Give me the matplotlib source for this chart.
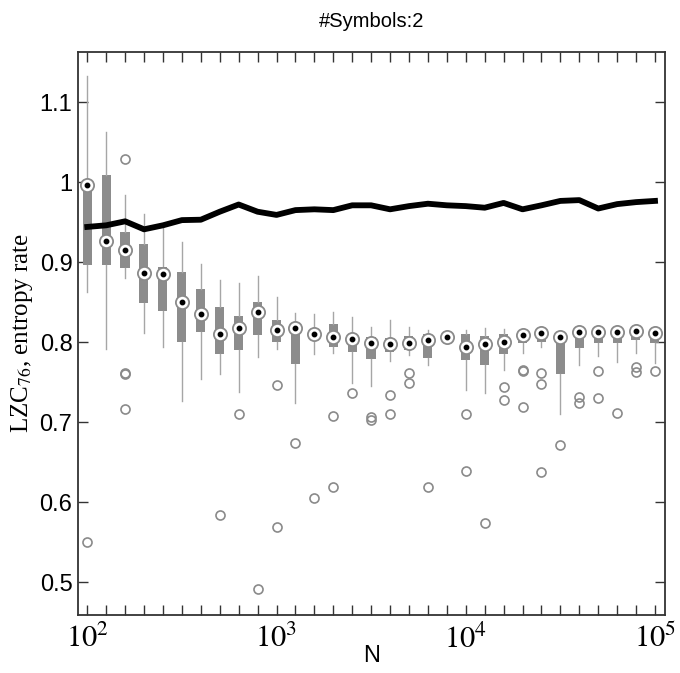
import matplotlib
matplotlib.use('Agg')
import matplotlib.pyplot as plt
import numpy as np

plt.rcParams['mathtext.fontset'] = 'stix'

# --- data ---
exponents = np.arange(2.0, 5.01, 0.1)
N = 10 ** exponents

whislo = [0.863, 0.791, 0.880, 0.812, 0.794, 0.727, 0.754, 0.760, 0.738, 0.782,
          0.791, 0.724, 0.785, 0.786, 0.749, 0.745, 0.776, 0.784, 0.771, 0.800,
          0.740, 0.736, 0.765, 0.786, 0.794, 0.710, 0.771, 0.783, 0.7755, 0.786, 0.774]
q1 = [0.897, 0.897, 0.893, 0.849, 0.839, 0.800, 0.813, 0.785, 0.790, 0.809,
      0.800, 0.7725, 0.803, 0.794, 0.788, 0.779, 0.788, 0.790, 0.780, 0.803,
      0.7775, 0.771, 0.785, 0.799, 0.800, 0.760, 0.7925, 0.799, 0.799, 0.8025, 0.799]
med = [0.996, 0.926, 0.915, 0.886, 0.885, 0.850, 0.835, 0.810, 0.818, 0.838,
       0.815, 0.8175, 0.810, 0.806, 0.804, 0.799, 0.7975, 0.799, 0.8025, 0.807,
       0.794, 0.7975, 0.800, 0.809, 0.811, 0.807, 0.8125, 0.8125, 0.813, 0.8135, 0.811]
q3 = [1.000, 1.009, 0.938, 0.9225, 0.894, 0.8875, 0.866, 0.844, 0.833, 0.850,
      0.8275, 0.822, 0.815, 0.8225, 0.810, 0.806, 0.805, 0.808, 0.810, 0.810,
      0.810, 0.808, 0.810, 0.812, 0.813, 0.809, 0.815, 0.815, 0.816, 0.816, 0.814]
whishi = [1.132, 1.063, 0.984, 0.960, 0.945, 0.925, 0.8975, 0.8775, 0.874, 0.883,
          0.857, 0.836, 0.835, 0.8375, 0.832, 0.819, 0.8275, 0.819, 0.815, 0.812,
          0.815, 0.8175, 0.816, 0.815, 0.815, 0.812, 0.817, 0.817, 0.818, 0.818, 0.816]
outliers = [[0.55], [], [1.029, 0.762, 0.760, 0.717], [], [], [], [], [0.584], [0.71], [0.491],
            [0.746, 0.569], [0.674], [0.605], [0.7075, 0.619], [0.737], [0.7025, 0.706],
            [0.734, 0.71], [0.761, 0.749], [0.619], [], [0.71, 0.639], [0.574],
            [0.744, 0.7275], [0.764, 0.765, 0.719], [0.762, 0.7475, 0.638], [0.671],
            [0.731, 0.724], [0.764, 0.73], [0.711], [0.769, 0.7625], [0.764]]

entropy = [0.944, 0.946, 0.951, 0.941, 0.946, 0.9525, 0.953, 0.963, 0.972, 0.963,
           0.959, 0.965, 0.966, 0.965, 0.971, 0.971, 0.966, 0.970, 0.973, 0.971,
           0.970, 0.968, 0.974, 0.966, 0.971, 0.9765, 0.9775, 0.967, 0.9725, 0.975, 0.9765]

ytick_vals = [0.5, 0.6, 0.7, 0.8, 0.9, 1.0, 1.1]
ytick_labels = ['0.5', '0.6', '0.7', '0.8', '0.9', '1', '1.1']
xtick_vals = [1e2, 1e3, 1e4, 1e5]
xtick_labels = [r'$10^{2}$', r'$10^{3}$', r'$10^{4}$', r'$10^{5}$']

fig = plt.figure(figsize=(6.8, 6.73), dpi=100)
ax = fig.add_axes([0.1147, 0.0862, 0.8633, 0.837])

stats = []
for i in range(len(N)):
    stats.append(dict(med=med[i], q1=q1[i], q3=q3[i], whislo=whislo[i], whishi=whishi[i],
                      fliers=outliers[i]))

ax.bxp(stats, positions=N, widths=N * 0.11, patch_artist=True, showcaps=False,
       boxprops=dict(facecolor='#8c8c8c', edgecolor='none'),
       whiskerprops=dict(color='#a6a6a6', lw=1.0),
       medianprops=dict(lw=0),
       flierprops=dict(marker='o', markerfacecolor='none', markeredgecolor='#8a8a8a',
                       markersize=6.5, markeredgewidth=1.2),
       manage_ticks=False)

# median markers: white disc with black dot
ax.plot(N, med, 'o', ms=9.5, mfc='white', mec='#8a8a8a', mew=1.3, zorder=5)
ax.plot(N, med, 'o', ms=3.2, mfc='black', mec='black', zorder=6)

# entropy rate
ax.plot(N, entropy, '-', color='black', lw=4.2, zorder=4)

ax.set_xscale('log')
ax.set_xlim(10 ** 1.951, 10 ** 5.053)
ax.set_ylim(0.459, 1.163)

ax.set_xticks(xtick_vals)
ax.set_xticklabels(xtick_labels, fontsize=22)
ax.set_xticks(N, minor=True)
ax.xaxis.set_minor_formatter(plt.NullFormatter())
ax.set_yticks(ytick_vals)
ax.set_yticklabels(ytick_labels, fontsize=17, family=['Liberation Sans Narrow', 'Liberation Sans'])

ax.tick_params(axis='both', which='both', direction='in', length=7, width=1,
               top=True, right=True, color='#333333')
ax.tick_params(axis='x', which='major', pad=6)
ax.tick_params(axis='y', which='major', pad=4)

for s in ax.spines.values():
    s.set_color('#333333')
    s.set_linewidth(1.3)

ax.set_title('#Symbols:2', fontsize=14.5, family='Liberation Sans', pad=18)
ax.set_xlabel('N', fontsize=17, family=['Liberation Sans Narrow', 'Liberation Sans'], labelpad=-6)
ax.set_ylabel(r'LZC$_{76}$, entropy rate', fontsize=18, family='Liberation Serif', labelpad=3)

fig.savefig('out.png', dpi=100)
